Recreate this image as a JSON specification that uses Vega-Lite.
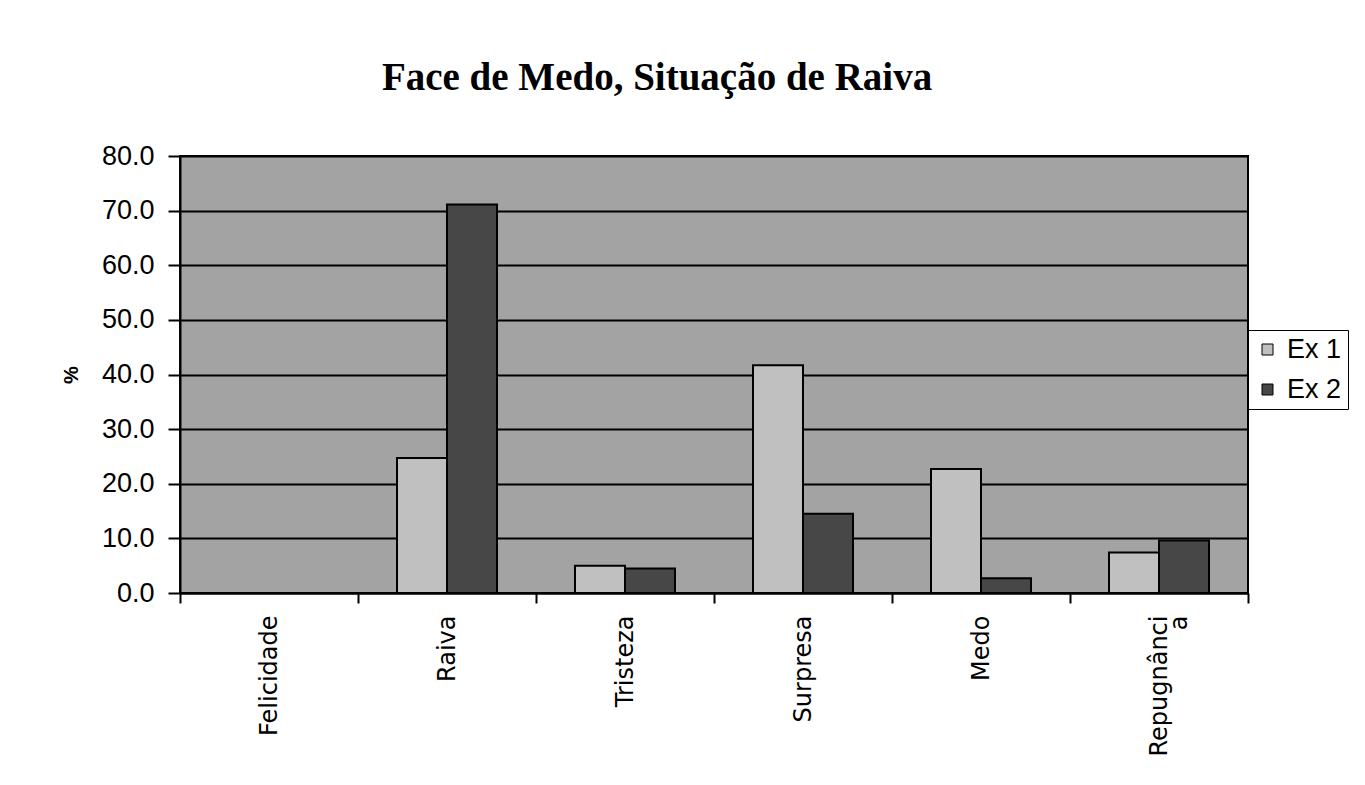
{
  "$schema": "https://vega.github.io/schema/vega-lite/v6.json",
  "autosize": {"type": "none"},
  "width": 1068,
  "height": 437,
  "padding": {"left": 180, "top": 156, "right": 117, "bottom": 192},
  "background": "white",
  "title": {
    "text": "Face de Medo, Situação de Raiva",
    "font": "Liberation Serif",
    "fontSize": 39,
    "fontWeight": "bold",
    "color": "black",
    "anchor": "middle",
    "dx": -57,
    "offset": 44
  },
  "data": {
    "values": [
      {"emo": "Felicidade", "serie": "Ex 1", "v": 0},
      {"emo": "Felicidade", "serie": "Ex 2", "v": 0},
      {"emo": "Raiva", "serie": "Ex 1", "v": 24.7},
      {"emo": "Raiva", "serie": "Ex 2", "v": 71.1},
      {"emo": "Tristeza", "serie": "Ex 1", "v": 5.0},
      {"emo": "Tristeza", "serie": "Ex 2", "v": 4.5},
      {"emo": "Surpresa", "serie": "Ex 1", "v": 41.7},
      {"emo": "Surpresa", "serie": "Ex 2", "v": 14.5},
      {"emo": "Medo", "serie": "Ex 1", "v": 22.7},
      {"emo": "Medo", "serie": "Ex 2", "v": 2.7},
      {"emo": "Repugnância", "serie": "Ex 1", "v": 7.4},
      {"emo": "Repugnância", "serie": "Ex 2", "v": 9.6}
    ]
  },
  "mark": {"type": "bar", "stroke": "black", "strokeWidth": 2},
  "encoding": {
    "x": {
      "field": "emo",
      "type": "nominal",
      "sort": null,
      "scale": {"paddingInner": 0, "paddingOuter": 0},
      "axis": {
        "title": null,
        "labelAngle": -90,
        "labelAlign": "right",
        "labelBaseline": "middle",
        "labelFont": "DejaVu Sans",
        "labelFontSize": 24,
        "labelColor": "black",
        "labelPadding": 12,
        "labelExpr": "datum.value == 'Repugnância' ? ['Repugnânci', 'a'] : datum.value",
        "labelLineHeight": 20,
        "tickBand": "extent",
        "tickColor": "black",
        "tickWidth": 2,
        "tickSize": 10,
        "domainColor": "black",
        "domainWidth": 2,
        "grid": false
      }
    },
    "xOffset": {
      "field": "serie",
      "type": "nominal",
      "scale": {"paddingInner": 0, "paddingOuter": 0.78}
    },
    "y": {
      "field": "v",
      "type": "quantitative",
      "scale": {"domain": [0, 80], "nice": false},
      "axis": {
        "title": "%",
        "titleFont": "Liberation Sans",
        "titleFontSize": 20,
        "titleFontWeight": "bold",
        "titleColor": "black",
        "titlePadding": 20,
        "values": [0, 10, 20, 30, 40, 50, 60, 70, 80],
        "format": ".1f",
        "labelFont": "Liberation Sans",
        "labelFontSize": 27,
        "labelColor": "black",
        "labelPadding": 14,
        "tickColor": "black",
        "tickWidth": 2,
        "tickSize": 12,
        "domainColor": "black",
        "domainWidth": 2,
        "grid": true,
        "gridColor": "black",
        "gridWidth": 2,
        "gridOpacity": 1
      }
    },
    "color": {
      "field": "serie",
      "type": "nominal",
      "scale": {"domain": ["Ex 1", "Ex 2"], "range": ["#c0c0c0", "#474747"]},
      "legend": {
        "title": null,
        "orient": "none",
        "legendX": 1068,
        "legendY": 174,
        "strokeColor": "black",
        "fillColor": "white",
        "padding": 6,
        "symbolType": "square",
        "symbolSize": 121,
        "symbolStrokeColor": "black",
        "symbolStrokeWidth": 1,
        "labelFont": "Liberation Sans",
        "labelFontSize": 27,
        "labelColor": "black",
        "rowPadding": 12,
        "labelOffset": 6
      }
    }
  },
  "config": {
    "view": {"fill": "#a3a3a3", "stroke": "black", "strokeWidth": 2}
  }
}
